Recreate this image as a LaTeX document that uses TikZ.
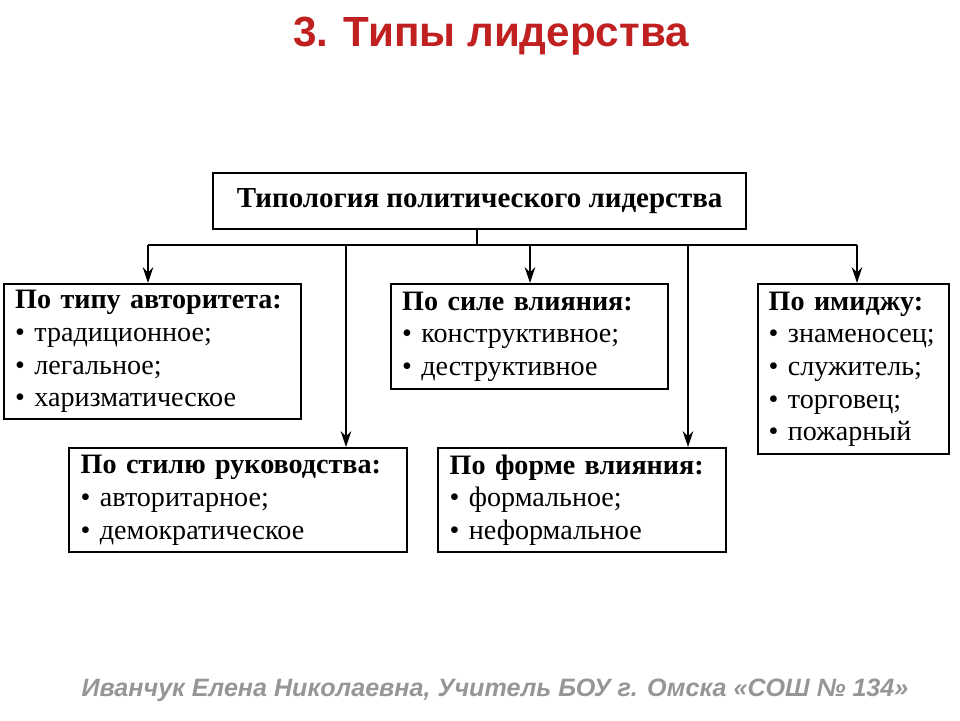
\documentclass[tikz,border=0pt]{standalone}
\usepackage{fontspec}
\setmainfont{Liberation Serif}
\newfontfamily\titlefont{Liberation Sans}
\usetikzlibrary{positioning,arrows.meta}
\definecolor{titlered}{RGB}{192,32,32}
\definecolor{footgray}{RGB}{150,150,150}
\tikzset{
  box/.style={draw, line width=1.4pt, anchor=north west, align=left, inner xsep=0.2cm,
    font=\fontsize{16}{18.6}\selectfont},
  arr/.style={-{Stealth[length=9pt,width=6pt]}, line width=1pt}
}
\newcommand{\pt}{\textbullet\ }
\begin{document}
\begin{tikzpicture}[x=0.02cm,y=-0.02cm]
  \useasboundingbox (0,0) rectangle (960,720);
  \node[font=\titlefont\bfseries\fontsize{24}{28}\selectfont, text=titlered] (title) at (491,36) {3. Типы лидерства};
  \node[box, minimum width=10.66cm, minimum height=1.12cm, align=center, font=\bfseries\fontsize{16.5}{18}\selectfont] (top) at (212,172) {Типология политического лидерства};

  \node[box, minimum width=5.94cm, minimum height=2.7cm, text width=5.5cm] (avt) at (3,283)
    {\textbf{По типу авторитета:}\\ \pt традиционное;\\ \pt легальное;\\ \pt харизматическое};
  \node[box, minimum width=5.54cm, minimum height=2.1cm, text width=5.1cm] (sil) at (390,283)
    {\textbf{По силе влияния:}\\ \pt конструктивное;\\ \pt деструктивное};
  \node[box, minimum width=3.82cm, minimum height=3.4cm, text width=3.4cm] (img) at (757,283)
    {\textbf{По имиджу:}\\ \pt знаменосец;\\ \pt служитель;\\ \pt торговец;\\ \pt пожарный};
  \node[box, minimum width=6.76cm, minimum height=2.08cm, text width=6.3cm] (stl) at (68,447)
    {\textbf{По стилю руководства:}\\ \pt авторитарное;\\ \pt демократическое};
  \node[box, minimum width=5.76cm, minimum height=2.08cm, text width=5.3cm] (frm) at (437,447)
    {\textbf{По форме влияния:}\\ \pt формальное;\\ \pt неформальное};

  \coordinate (hub) at (477,245);
  \coordinate (hl) at (148,245);
  \coordinate (hr) at (857,245);
  \draw[line width=1pt] (top.south -| hub) -- (hub);
  \draw[line width=1pt] (hl) -- (hr);
  \draw[arr] (hl) -- (hl |- avt.north);
  \draw[arr] (346,245) -- (346,447);
  \draw[arr] (530,245) -- (530,283);
  \draw[arr] (688,245) -- (688,447);
  \draw[arr] (hr) -- (hr |- img.north);

  \node[font=\titlefont\bfseries\itshape\fontsize{14.3}{17}\selectfont, text=footgray] (foot) at (495,690)
    {Иванчук Елена Николаевна, Учитель БОУ г. Омска «СОШ № 134»};
\end{tikzpicture}
\end{document}
